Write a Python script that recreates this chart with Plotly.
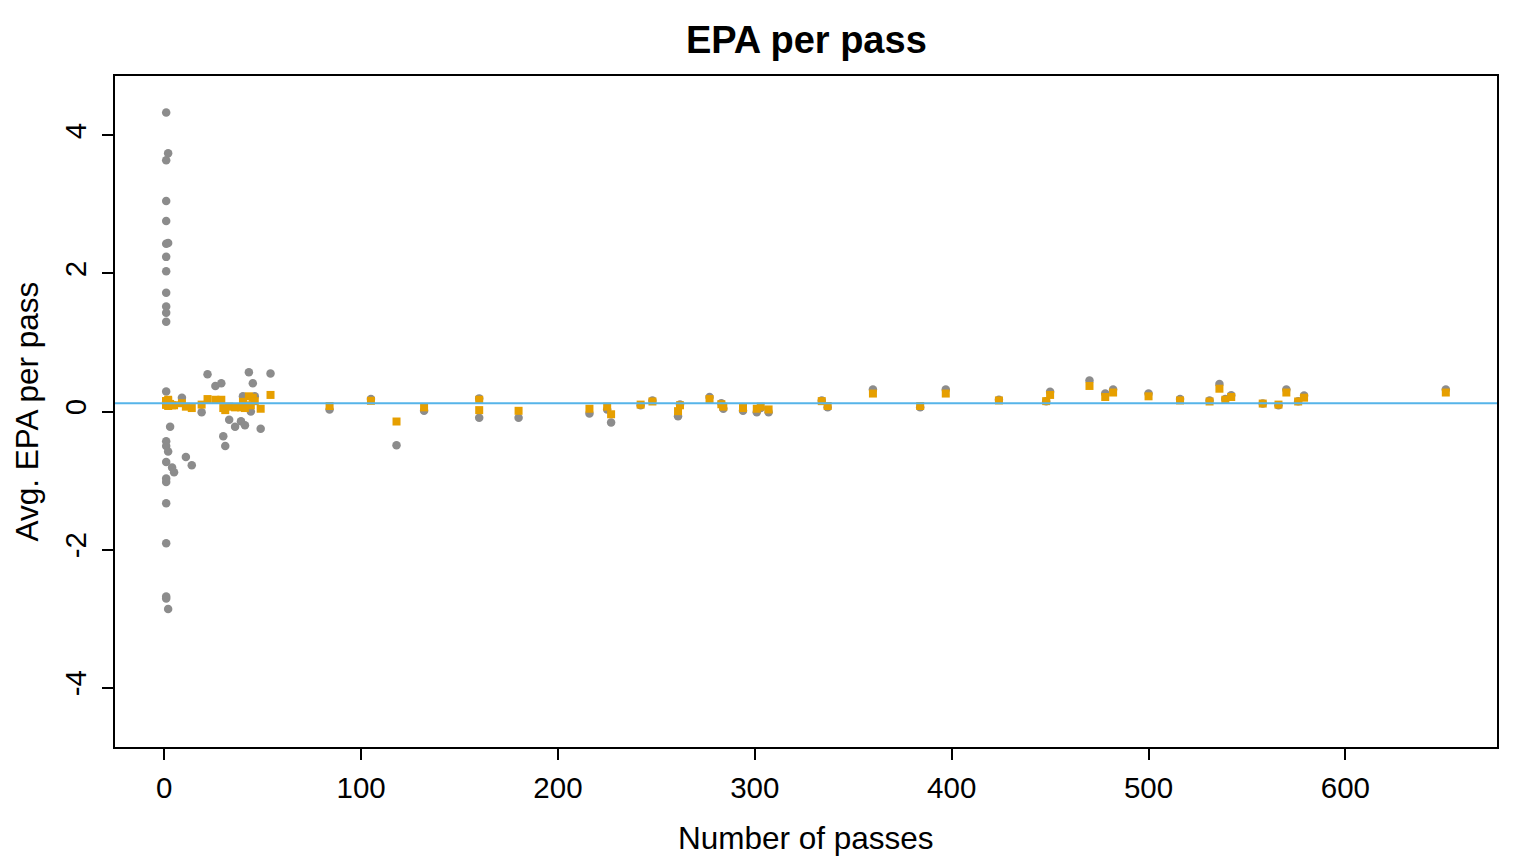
import plotly.graph_objects as go

# number of passes per player
n_passes = [1]*22 + [2]*4 + [3, 4, 5, 9, 11, 14, 19, 22, 26, 29, 30, 31, 33, 36, 39, 40, 41, 43, 44, 45, 46, 49, 54,
            84, 105, 118, 132, 160, 160, 180, 216, 225, 227, 242, 248, 261, 262, 277, 283, 284, 294, 301, 303, 307,
            334, 337, 360, 384, 397, 424, 448, 450, 470, 478, 482, 500, 516, 531, 536, 539, 542, 558, 566, 570,
            576, 579, 651]

# raw average EPA per pass (grey dots)
raw_epa = [4.33, 3.64, 3.05, 2.76, 2.43, 2.24, 2.03, 1.72, 1.52, 1.43, 1.30, 0.29, 0.15, -0.43, -0.50, -0.73,
           -0.97, -1.02, -1.33, -1.91, -2.68, -2.71,
           3.74, 2.44, -0.58, -2.86,
           -0.22, -0.81, -0.88, 0.20, -0.66, -0.78, -0.01, 0.54, 0.37, 0.41, -0.36, -0.50, -0.12, -0.22, -0.14,
           0.22, -0.20, 0.57, 0.00, 0.41, 0.22, -0.25, 0.55,
           0.03, 0.18, -0.49, 0.01, 0.19, -0.09, -0.09, -0.03, 0.03, -0.16, 0.09, 0.16, -0.07, 0.10, 0.21, 0.12,
           0.04, 0.01, -0.01, 0.05, -0.01, 0.16, 0.06, 0.32, 0.06, 0.32, 0.17, 0.15, 0.285, 0.45, 0.26, 0.32,
           0.26, 0.18, 0.16, 0.40, 0.18, 0.235, 0.115, 0.09, 0.32, 0.15, 0.23, 0.32]

# shrunk estimate of EPA per pass (orange squares)
shrunk_epa = [0.15, 0.15, 0.14, 0.14, 0.14, 0.14, 0.13, 0.13, 0.13, 0.13, 0.13, 0.12, 0.12, 0.12, 0.12, 0.11,
              0.11, 0.11, 0.11, 0.10, 0.10, 0.10,
              0.17, 0.15, 0.11, 0.08,
              0.11, 0.09, 0.09, 0.12, 0.07, 0.05, 0.10, 0.18, 0.17, 0.17, 0.05, 0.02, 0.07, 0.06, 0.06,
              0.14, 0.05, 0.22, 0.09, 0.20, 0.15, 0.04, 0.24,
              0.08, 0.155, -0.145, 0.06, 0.17, 0.02, 0.01, 0.04, 0.07, -0.04, 0.10, 0.145, 0.005, 0.09, 0.18, 0.105,
              0.07, 0.05, 0.04, 0.07, 0.03, 0.15, 0.08, 0.26, 0.08, 0.26, 0.16, 0.15, 0.24, 0.37, 0.21, 0.275,
              0.22, 0.16, 0.145, 0.33, 0.17, 0.21, 0.115, 0.10, 0.275, 0.145, 0.20, 0.275]

league_mean = 0.12

x_ticks = [0, 100, 200, 300, 400, 500, 600]
y_ticks = [-4, -2, 0, 2, 4]

FONT = "Liberation Sans, Arial, Helvetica, sans-serif"

fig = go.Figure()
fig.add_trace(go.Scatter(
    x=n_passes, y=raw_epa, mode="markers",
    marker=dict(symbol="circle", size=8.5, color="#8C8C8C", line=dict(width=0)),
    hoverinfo="x+y", showlegend=False))
fig.add_trace(go.Scatter(
    x=n_passes, y=shrunk_epa, mode="markers",
    marker=dict(symbol="square", size=8, color="#E69F00", line=dict(width=0)),
    hoverinfo="x+y", showlegend=False))
fig.add_hline(y=league_mean, line=dict(color="#56B4E9", width=2))

fig.update_layout(
    width=1536, height=864,
    margin=dict(l=107, r=47, t=68, b=125),
    paper_bgcolor="white", plot_bgcolor="white",
    font=dict(family=FONT, size=31, color="black"),
    showlegend=False,
    annotations=[
        dict(text="<b>EPA per pass</b>", x=0.5, y=1.0537, xref="paper", yref="paper",
             xanchor="center", yanchor="middle", showarrow=False, font=dict(size=38, family=FONT)),
        dict(text="Number of passes", x=0.5, y=-0.1356, xref="paper", yref="paper",
             xanchor="center", yanchor="middle", showarrow=False, font=dict(size=31.5, family=FONT)),
        dict(text="Avg. EPA per pass", x=-0.0637, y=0.5, xref="paper", yref="paper",
             xanchor="center", yanchor="middle", textangle=-90, showarrow=False,
             font=dict(size=31.5, family=FONT)),
    ],
)
fig.update_xaxes(
    range=[-25, 677], tickmode="array", tickvals=x_ticks, ticktext=[str(v) for v in x_ticks],
    ticks="outside", ticklen=11, tickwidth=1.5, tickcolor="black",
    showline=True, linecolor="black", linewidth=1.5, mirror=True,
    showgrid=False, zeroline=False, tickfont=dict(size=29.5, family=FONT), ticklabelstandoff=3)
fig.update_yaxes(
    range=[-4.86, 4.86], tickmode="array", tickvals=y_ticks, ticktext=[str(v) for v in y_ticks],
    ticks="outside", ticklen=11, tickwidth=1.5, tickcolor="black", tickangle=-90,
    showline=True, linecolor="black", linewidth=1.5, mirror=True,
    showgrid=False, zeroline=False, tickfont=dict(size=29.5, family=FONT), ticklabelstandoff=4)

fig.write_html("out.html")
